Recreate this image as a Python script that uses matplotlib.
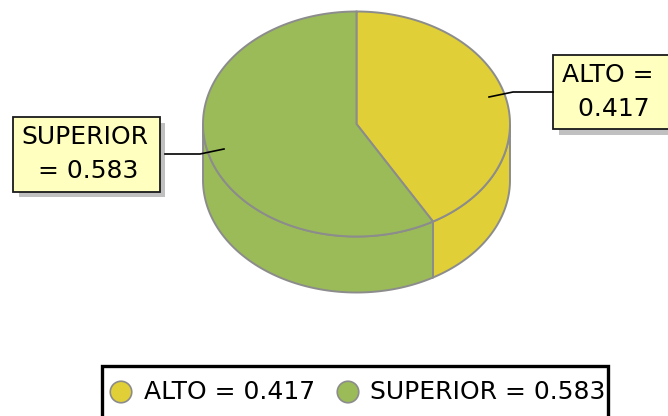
import numpy as np
import matplotlib
matplotlib.use("Agg")
import matplotlib.pyplot as plt
from matplotlib.patches import Polygon, Rectangle, Ellipse

categories = ["ALTO", "SUPERIOR"]
values = [0.417, 0.583]
colors = ["#E0CF36", "#9BBB59"]
edge = "#8C8C8C"

W, H = 668, 416
fig = plt.figure(figsize=(W / 100, H / 100), dpi=100)
ax = fig.add_axes([0, 0, 1, 1])
ax.set_xlim(0, W)
ax.set_ylim(H, 0)
ax.axis("off")
plt.rcParams["font.family"] = "DejaVu Sans"

cx, cy, a, b, depth = 356.5, 124, 153.5, 112.5, 56
FS = 18


def pt(theta, dy=0):
    """theta: fraction of the turn, clockwise from the top."""
    t = np.asarray(theta) * 2 * np.pi
    return np.column_stack([cx + a * np.sin(t), cy - b * np.cos(t) + dy])


edges = np.concatenate([[0], np.cumsum(values)])

# side walls (only the front half, fractions 0.25 to 0.75)
for i, (v0, v1) in enumerate(zip(edges[:-1], edges[1:])):
    s0, s1 = max(v0, 0.25), min(v1, 0.75)
    if s1 <= s0:
        continue
    f = np.linspace(s0, s1, 200)
    poly = np.vstack([pt(f), pt(f[::-1], depth)])
    ax.add_patch(Polygon(poly, closed=True, fc=colors[i], ec=edge, lw=1.4, zorder=2))

# top wedges
for i, (v0, v1) in enumerate(zip(edges[:-1], edges[1:])):
    f = np.linspace(v0, v1, 300)
    poly = np.vstack([[cx, cy], pt(f)])
    ax.add_patch(Polygon(poly, closed=True, fc=colors[i], ec=edge, lw=1.4, zorder=3))


def label(x0, y0, x1, y1, text, tx, leader):
    ax.add_patch(Rectangle((x0 + 5.5, y0 + 5.5), x1 - x0, y1 - y0, fc="#C0C0C0", ec="none", zorder=4))
    ax.add_patch(Rectangle((x0, y0), x1 - x0, y1 - y0, fc="#FFFFC0", ec="#1A1A1A", lw=1.3, zorder=5))
    for k, line in enumerate(text):
        ax.text(tx, y0 + 20 + k * 34, line, fontsize=FS, color="black", va="center", ha="left", zorder=6, clip_on=True)
    ax.plot(*zip(*leader), color="black", lw=1.2, zorder=6)


label(13, 117, 159.5, 191.5,
      [f"{categories[1]}", f"  = {values[1]:.3f}"], 21.5,
      [(165, 154), (200, 154), (224, 149)])
label(553, 55, 700, 129,
      [f"{categories[0]} =", f"  {values[0]:.3f}"], 561.5,
      [(553, 92), (513, 92), (489, 97)])

# legend box, cut off by the lower edge of the picture
ax.add_patch(Rectangle((102, 365.5), 506, 70, fc="white", ec="black", lw=2.4, zorder=5))
lx = [121, 348]
tx = [143.5, 370]
for i in range(2):
    ax.add_patch(Ellipse((lx[i], 392), 21.5, 21.5, fc=colors[i], ec=edge, lw=1.2, zorder=6))
    ax.text(tx[i], 392, f"{categories[i]} = {values[i]:.3f}", fontsize=FS, color="black",
            va="center", ha="left", zorder=6)

fig.savefig("out.png", dpi=100)
